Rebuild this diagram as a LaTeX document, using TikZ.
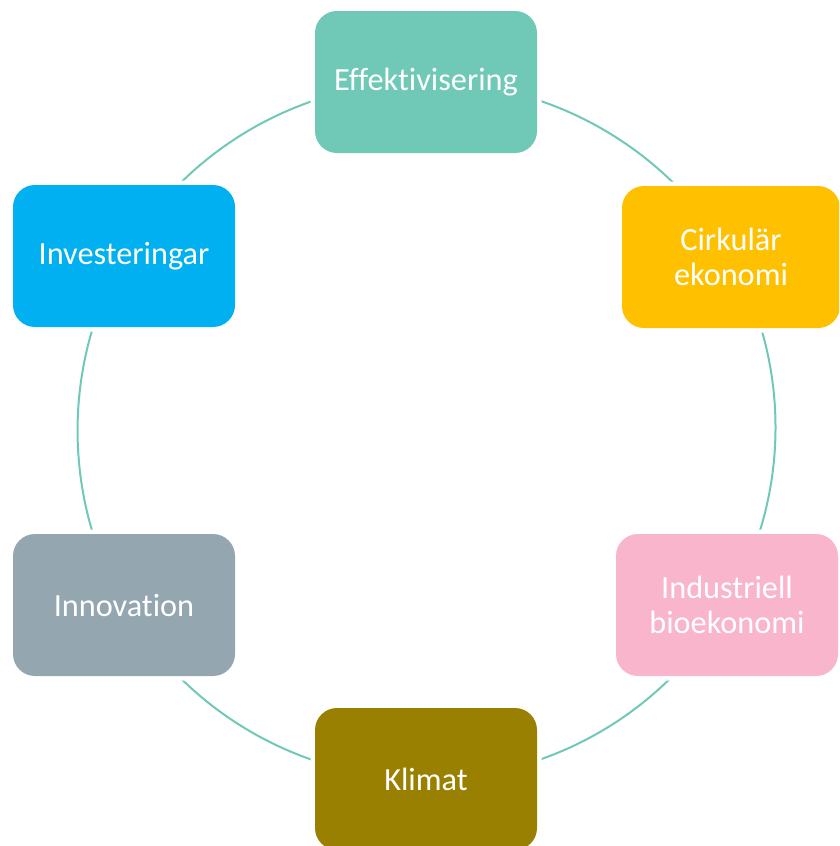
\documentclass[tikz,border=0pt]{standalone}
\usepackage{fontspec}
\setmainfont{Carlito}[Ligatures=NoCommon]
\usetikzlibrary{positioning, backgrounds}

\definecolor{effteal}{HTML}{70C8B6}
\definecolor{cirkamber}{HTML}{FFC000}
\definecolor{biopink}{HTML}{F8B5CB}
\definecolor{klimatolive}{HTML}{998000}
\definecolor{innovgrey}{HTML}{94A6B0}
\definecolor{investblue}{HTML}{00B0F0}
\definecolor{cycleline}{HTML}{70C8B6}

\begin{document}
\begin{tikzpicture}[x=1pt, y=-1pt,
    cyclebox/.style={rectangle, rounded corners=22pt, minimum width=222pt, minimum height=142pt, inner sep=0pt, text width=212pt, align=center, text=white, font=\fontsize{32.3}{34.5}\selectfont, preaction={draw=white, line width=9pt}},
    line/.style={draw=cycleline, line width=2pt}
]
    \useasboundingbox (0,0) rectangle (839,846);
    \clip (0,0) rectangle (839,846);

    % Boxes
    \node [cyclebox, fill=effteal] (eff) at (426,82) {Effektivisering};
    \node [cyclebox, fill=cirkamber, minimum width=218pt] (cirk) at (731,257) {Cirkulär\\ekonomi};
    \node [cyclebox, fill=biopink] (bio) at (727,605) {Industriell\\bioekonomi};
    \node [cyclebox, fill=klimatolive] (klimat) at (426,779) {Klimat};
    \node [cyclebox, fill=innovgrey] (innov) at (124,605) {Innovation};
    \node [cyclebox, fill=investblue] (invest) at (124,256) {Investeringar};

    % Connections
    \begin{scope}[on background layer]
        \path [line] (eff.center) to[bend left=30, looseness=0.91] (cirk.center);
        \path [line] (cirk.center) to[bend left=30, looseness=0.91] (bio.center);
        \path [line] (bio.center) to[bend left=30, looseness=0.91] (klimat.center);
        \path [line] (klimat.center) to[bend left=30, looseness=0.91] (innov.center);
        \path [line] (innov.center) to[bend left=30, looseness=0.91] (invest.center);
        \path [line] (invest.center) to[bend left=30, looseness=0.91] (eff.center);
    \end{scope}
\end{tikzpicture}
\end{document}
